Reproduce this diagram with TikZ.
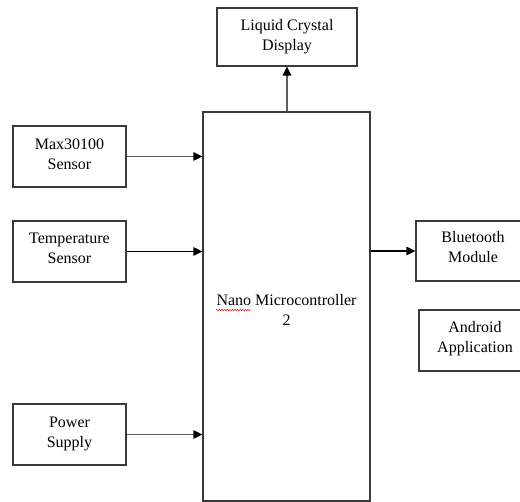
\documentclass[tikz,border=0pt]{standalone}
\usepackage{fontspec}
\setmainfont{Liberation Serif}
\newfontfamily\diagfont{Liberation Serif}
\usetikzlibrary{arrows.meta,decorations.pathmorphing}
\definecolor{boxline}{HTML}{3A3A3A}
\definecolor{greyline}{HTML}{5E5E5E}
\tikzset{
  blk/.style={draw=boxline, line width=1.2pt, rectangle, align=center,
    font=\diagfont\fontsize{16}{20}\selectfont, inner sep=0pt},
  conn/.style={line width=1.2pt, -{Triangle[length=9pt,width=8.5pt,color=black]}},
}
\begin{document}
\begin{tikzpicture}[x=1pt,y=-1pt]
\path[use as bounding box, clip] (0,0) rectangle (520,502);
\fill[white] (0,0) rectangle (520,502);
\node[blk, minimum width=140pt, minimum height=58pt, text depth=4pt] (lcd) at (287,37) {Liquid Crystal\\Display};
\node[blk, minimum width=113pt, minimum height=61pt, text depth=4pt] (max) at (69.5,156.5) {Max30100\\Sensor};
\node[blk, minimum width=113pt, minimum height=61pt, text depth=6pt] (temp) at (69.5,251.5) {Temperature\\Sensor};
\node[blk, minimum width=113pt, minimum height=61pt, text depth=4pt] (power) at (69.5,434.5) {Power\\Supply};
\node[blk, minimum width=167pt, minimum height=389pt] (mcu) at (286.5,306.5) {\begin{tabular}{@{}c@{}}\rule{0pt}{24pt}Nano Microcontroller\\2\end{tabular}};
\node[blk, minimum width=114pt, minimum height=60pt, text depth=8pt] (bt) at (473,251) {Bluetooth\\Module};
\node[blk, minimum width=112pt, minimum height=61pt, text depth=8pt] (android) at (475,340.5) {Android\\Application};
\draw[conn, draw=greyline] (max.east) -- (max.east -| mcu.west);
\draw[conn, draw=black] (temp.east) -- (temp.east -| mcu.west);
\draw[conn, draw=greyline] (power.east) -- (power.east -| mcu.west);
\draw[conn, draw=black] (bt.west -| mcu.east) -- (bt.west);
\draw[conn, draw=greyline] (lcd.south |- mcu.north) -- (lcd.south);
\draw[red, line width=0.5pt, decorate, decoration={snake, amplitude=0.7pt, segment length=2.6pt}] (216,310) -- (251,310);
\end{tikzpicture}
\end{document}
